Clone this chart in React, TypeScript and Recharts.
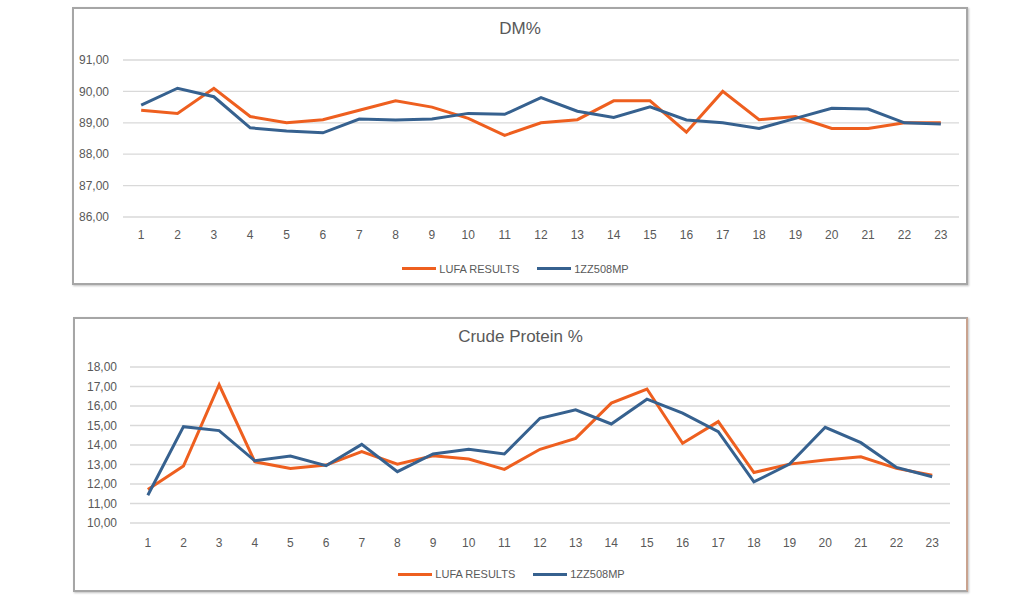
import React from 'react';
import { LineChart, Line, XAxis, YAxis, CartesianGrid, Legend } from 'recharts';

const samples = ['1', '2', '3', '4', '5', '6', '7', '8', '9', '10', '11', '12', '13', '14', '15', '16', '17', '18', '19', '20', '21', '22', '23'];

const dmLufa = [89.4, 89.3, 90.1, 89.2, 89.0, 89.1, 89.4, 89.7, 89.5, 89.14, 88.6, 89.0, 89.1, 89.7, 89.7, 88.7, 90.0, 89.1, 89.2, 88.82, 88.82, 89.0, 89.0];
const dmNir = [89.56, 90.1, 89.83, 88.84, 88.74, 88.68, 89.12, 89.09, 89.12, 89.3, 89.27, 89.8, 89.37, 89.17, 89.51, 89.09, 89.0, 88.82, 89.14, 89.46, 89.44, 89.0, 88.96];

const cpLufa = [11.72, 12.92, 17.09, 13.14, 12.8, 12.97, 13.66, 13.02, 13.45, 13.28, 12.75, 13.78, 14.34, 16.15, 16.87, 14.09, 15.2, 12.59, 13.02, 13.23, 13.4, 12.8, 12.45];
const cpNir = [11.42, 14.94, 14.74, 13.19, 13.43, 12.94, 14.03, 12.63, 13.54, 13.78, 13.54, 15.37, 15.8, 15.08, 16.35, 15.63, 14.69, 12.11, 13.02, 14.91, 14.12, 12.85, 12.37];

const dmTicks = [86, 87, 88, 89, 90, 91];
const cpTicks = [10, 11, 12, 13, 14, 15, 16, 17, 18];

const ORANGE = '#EE5F1F';
const BLUE = '#36618F';
const TEXT = '#595959';
const FONT = '"Liberation Sans", Arial, sans-serif';

const fmt = (v: number) => v.toFixed(2).replace('.', ',');

const dmData = samples.map((s, i) => ({ sample: s, lufa: dmLufa[i], nir: dmNir[i] }));
const cpData = samples.map((s, i) => ({ sample: s, lufa: cpLufa[i], nir: cpNir[i] }));

const LegendRow = () => (
  <div style={{ display: 'flex', justifyContent: 'center', alignItems: 'center', fontFamily: FONT, fontSize: 11, color: TEXT, height: '100%' }}>
    <span style={{ display: 'inline-block', width: 34, height: 3, background: ORANGE, marginRight: 3 }} />
    <span style={{ marginRight: 18 }}>LUFA RESULTS</span>
    <span style={{ display: 'inline-block', width: 34, height: 3, background: BLUE, marginRight: 3 }} />
    <span>1ZZ508MP</span>
  </div>
);

interface PanelProps {
  title: string;
  data: { sample: string; lufa: number; nir: number }[];
  ticks: number[];
  left: number;
  top: number;
  width: number;
  height: number;
  plotLeft: number;
  plotTop: number;
  plotRight: number;
  titleTop: number;
  xAxisHeight: number;
  xTickMargin: number;
  legendHeight: number;
  tickGap: number;
  rightBorder: string;
}

const Panel: React.FC<PanelProps> = (p) => {
  // half a category slot on each side, like Excel's "between tick marks"
  const half = (p.width - p.plotLeft - p.plotRight) / p.data.length / 2;
  return (
    <div
      style={{
        position: 'absolute',
        left: p.left,
        top: p.top,
        width: p.width,
        height: p.height,
        boxSizing: 'border-box',
        border: '2px solid #A6A6A6',
        borderRightColor: p.rightBorder,
        background: '#fff',
        boxShadow: '1px 1px 2px rgba(0,0,0,0.25)',
      }}
    >
      <div style={{ position: 'absolute', left: 0, right: 0, top: p.titleTop, textAlign: 'center', fontFamily: FONT, fontSize: 17, color: TEXT }}>
        {p.title}
      </div>
      <div style={{ position: 'absolute', left: -2, top: -2 }}>
        <LineChart
          width={p.width}
          height={p.height}
          data={p.data}
          margin={{ top: p.plotTop, right: p.plotRight, left: 0, bottom: 0 }}
        >
          <CartesianGrid vertical={false} stroke="#D9D9D9" strokeWidth={1.3} />
          <XAxis
            dataKey="sample"
            axisLine={false}
            tickLine={false}
            tickSize={0}
            tickMargin={p.xTickMargin}
            height={p.xAxisHeight}
            interval={0}
            padding={{ left: half, right: half }}
            tick={{ fill: TEXT, fontSize: 12, fontFamily: FONT }}
          />
          <YAxis
            width={p.plotLeft}
            domain={[p.ticks[0], p.ticks[p.ticks.length - 1]]}
            ticks={p.ticks}
            interval={0}
            axisLine={false}
            tickLine={false}
            tickSize={0}
            tickMargin={p.tickGap}
            tickFormatter={fmt}
            tick={{ fill: TEXT, fontSize: 12, fontFamily: FONT }}
          />
          <Legend verticalAlign="bottom" height={p.legendHeight} content={() => <LegendRow />} />
          <Line type="linear" dataKey="lufa" name="LUFA RESULTS" stroke={ORANGE} strokeWidth={3} dot={false} isAnimationActive={false} />
          <Line type="linear" dataKey="nir" name="1ZZ508MP" stroke={BLUE} strokeWidth={3} dot={false} isAnimationActive={false} />
        </LineChart>
      </div>
    </div>
  );
};

export default function App() {
  return (
    <div style={{ position: 'absolute', left: 0, top: 0, width: 1024, height: 597, background: '#fff', overflow: 'hidden' }}>
      <Panel
        title="DM%"
        data={dmData}
        ticks={dmTicks}
        left={72}
        top={7}
        width={896}
        height={278}
        plotLeft={51}
        plotTop={53}
        plotRight={9}
        titleTop={10}
        xAxisHeight={35}
        xTickMargin={13}
        legendHeight={33}
        tickGap={14}
        rightBorder="#A6A6A6"
      />
      <Panel
        title="Crude Protein %"
        data={cpData}
        ticks={cpTicks}
        left={73}
        top={317}
        width={895}
        height={275}
        plotLeft={57}
        plotTop={50}
        plotRight={18}
        titleTop={8}
        xAxisHeight={33}
        xTickMargin={15}
        legendHeight={36}
        tickGap={13}
        rightBorder="#C9A38F"
      />
    </div>
  );
}
